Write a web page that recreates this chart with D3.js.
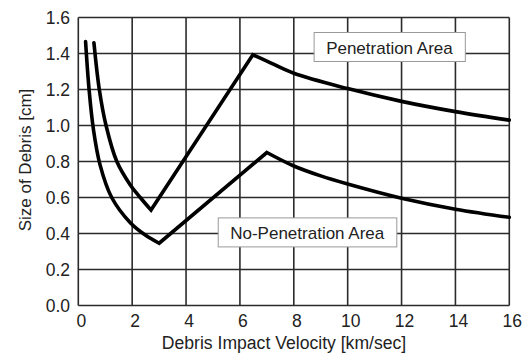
<!DOCTYPE html>
<html>
<head>
<meta charset="utf-8">
<script src="https://cdn.jsdelivr.net/npm/d3@7"></script>
<style>
  html, body { margin: 0; padding: 0; background: #fff; }
  svg { display: block; }
  text { font-family: "Liberation Sans", Arial, sans-serif; fill: #222; }
</style>
</head>
<body>
<svg id="chart" width="531" height="354"></svg>
<script>
// Axis ticks
const xTicks = [0, 2, 4, 6, 8, 10, 12, 14, 16];
const yTicks = [0, 0.2, 0.4, 0.6, 0.8, 1.0, 1.2, 1.4, 1.6];

// Penetration boundary (upper curve): [velocity km/s, size cm]
const penLow = [[0.58, 1.46], [0.78, 1.2], [1.03, 1.0], [1.43, 0.8], [1.93, 0.67], [2.3, 0.6], [2.7, 0.53]];
const penRise = [[2.7, 0.53], [6.48, 1.393]];
const penHigh = [[6.48, 1.393], [7, 1.358], [8, 1.29], [10, 1.205], [12, 1.134], [14, 1.077], [16, 1.03]];

// No-penetration boundary (lower curve)
const noLow = [[0.27, 1.466], [0.4, 1.2], [0.56, 0.98], [0.81, 0.78], [1.24, 0.6], [1.93, 0.46], [2.5, 0.39], [3.0, 0.346]];
const noRise = [[3.0, 0.346], [7.0, 0.85]];
const noHigh = [[7.0, 0.85], [8, 0.775], [9, 0.72], [10, 0.675], [12, 0.596], [14, 0.535], [16, 0.49]];

// Region labels, anchored at the text baseline start (data coords)
const regionLabels = [
  { text: "Penetration Area", x: 9.2, y: 1.4 },
  { text: "No-Penetration Area", x: 5.64, y: 0.37 }
];

(function () {
  const svg = d3.select("#chart");
  const plotL = 78.3, plotR = 509.3, plotT = 17.5, plotB = 305.5;

  const x = d3.scaleLinear().domain([0, 16]).range([plotL, plotR]);
  const y = d3.scaleLinear().domain([0, 1.6]).range([plotB, plotT]);

  const gridColor = "#2b2b2b";

  // Grid lines
  svg.append("g").selectAll("line").data(xTicks).join("line")
    .attr("x1", d => x(d)).attr("x2", d => x(d))
    .attr("y1", plotT).attr("y2", plotB)
    .attr("stroke", gridColor).attr("stroke-width", 1.6);
  svg.append("g").selectAll("line").data(yTicks).join("line")
    .attr("x1", plotL).attr("x2", plotR)
    .attr("y1", d => y(d)).attr("y2", d => y(d))
    .attr("stroke", gridColor).attr("stroke-width", 1.6);

  // Tick labels
  svg.append("g").selectAll("text").data(xTicks).join("text")
    .attr("x", d => x(d) + 3).attr("y", 327)
    .attr("text-anchor", "middle").attr("font-size", 17.5)
    .text(d => d);
  svg.append("g").selectAll("text").data(yTicks).join("text")
    .attr("x", 70).attr("y", d => y(d)).attr("dy", "0.35em")
    .attr("text-anchor", "end").attr("font-size", 17.5)
    .text(d => d.toFixed(1));

  // Axis titles
  svg.append("text")
    .attr("x", 284).attr("y", 349)
    .attr("text-anchor", "middle").attr("font-size", 17.6)
    .text("Debris Impact Velocity [km/sec]");
  svg.append("text")
    .attr("transform", "translate(31,160) rotate(-90)")
    .attr("text-anchor", "middle").attr("font-size", 17)
    .text("Size of Debris [cm]");

  // Boundary curves: smooth falling branch, straight rise, smooth decay
  const smooth = d3.line().x(d => x(d[0])).y(d => y(d[1])).curve(d3.curveCatmullRom.alpha(0.5));
  const straight = d3.line().x(d => x(d[0])).y(d => y(d[1]));

  function boundary(low, rise, high) {
    const dPath = smooth(low)
      + straight(rise).replace(/^M[^L]*/, "")
      + smooth(high).replace(/^M[^C]*/, "");
    svg.append("path").attr("d", dPath)
      .attr("fill", "none").attr("stroke", "#000").attr("stroke-width", 3.6)
      .attr("stroke-linejoin", "miter").attr("stroke-linecap", "round");
  }
  boundary(penLow, penRise, penHigh);
  boundary(noLow, noRise, noHigh);

  // Region label boxes
  svg.append("g").selectAll("g").data(regionLabels).join("g").each(function (d) {
    const g = d3.select(this);
    const t = g.append("text").attr("font-size", 17)
      .attr("x", x(d.x)).attr("y", y(d.y))
      .text(d.text);
    const bb = t.node().getBBox();
    g.insert("rect", "text")
      .attr("x", bb.x - 12).attr("y", bb.y - 6)
      .attr("width", bb.width + 24).attr("height", bb.height + 10)
      .attr("fill", "#fff").attr("stroke", "#999").attr("stroke-width", 1);
  });
})();
</script>
</body>
</html>
